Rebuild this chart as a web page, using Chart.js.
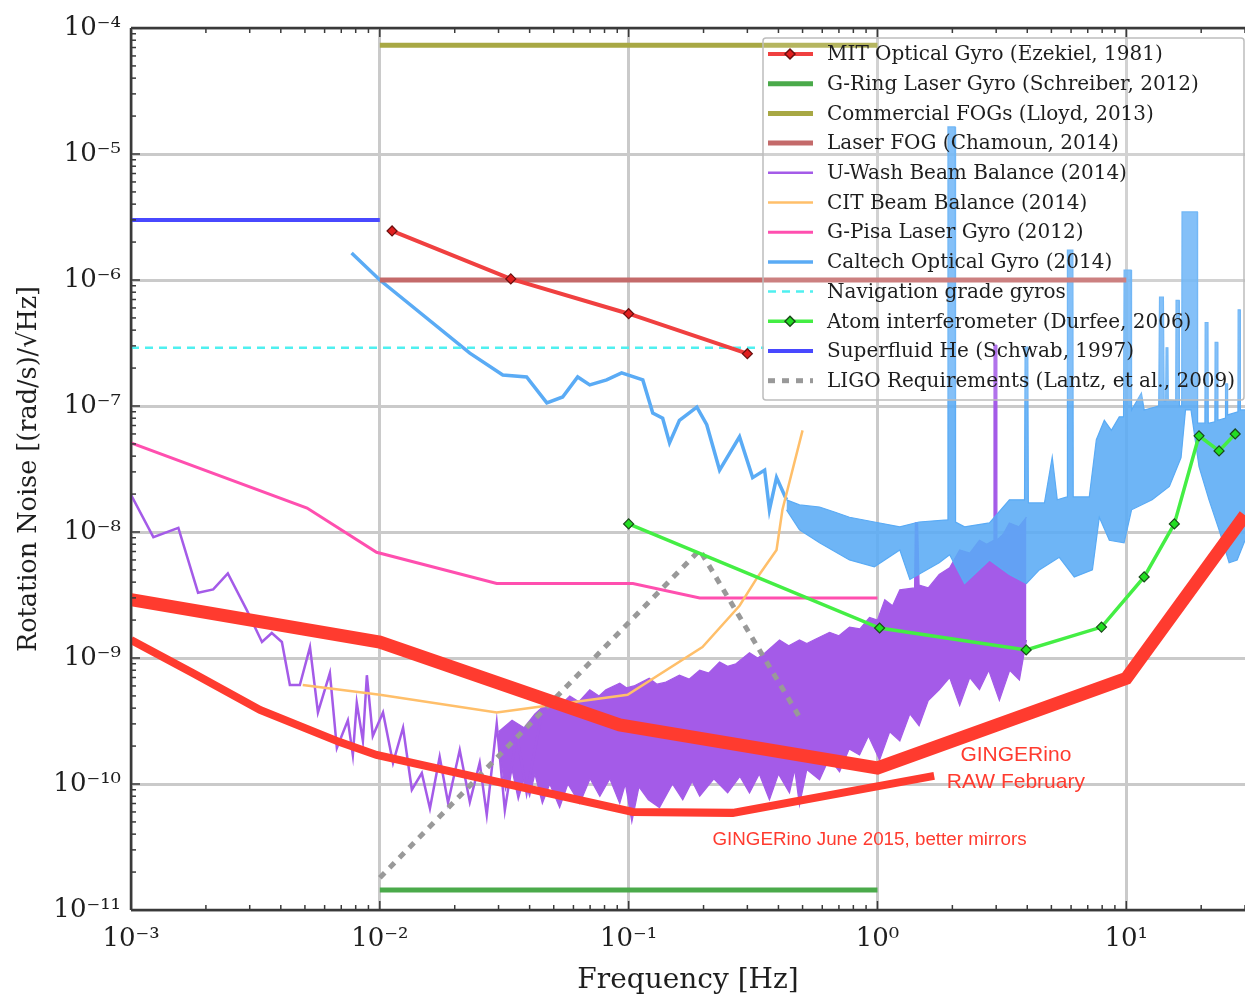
<!DOCTYPE html>
<html>
<head>
<meta charset="utf-8">
<script src="https://cdn.jsdelivr.net/npm/chart.js@4.4.1/dist/chart.umd.min.js"></script>
<style>
  html, body { margin: 0; padding: 0; background: #fff; }
  canvas { display: block; }
</style>
</head>
<body>
<canvas id="noise" width="1245" height="998"></canvas>
<script>
// ─────────────────────────────────────────────────────────
//  Rotation noise comparison — log/log line chart
// ─────────────────────────────────────────────────────────

// ── axes ─────────────────────────────────────────────────
const xDecades  = [1e-3, 1e-2, 1e-1, 1, 10];
const xTickText = ['10⁻³', '10⁻²', '10⁻¹', '10⁰', '10¹'];
const yDecades  = [1e-11, 1e-10, 1e-9, 1e-8, 1e-7, 1e-6, 1e-5, 1e-4];
const yTickText = ['10⁻¹¹', '10⁻¹⁰', '10⁻⁹', '10⁻⁸', '10⁻⁷', '10⁻⁶', '10⁻⁵', '10⁻⁴'];

// ── flat reference lines ─────────────────────────────────
const superF = [1e-3, 1e-2],  superV = [3.0e-6, 3.0e-6];
const fogF   = [1e-2, 1],     fogV   = [7.3e-5, 7.3e-5];
const laserF = [1e-2, 10],    laserV = [1.0e-6, 1.0e-6];
const gringF = [1e-2, 1],     gringV = [1.44e-11, 1.44e-11];
const navF   = [1e-3, 0.35],  navV   = [2.9e-7, 2.9e-7];

// ── measured curves ──────────────────────────────────────
const mitF  = [0.0112, 0.0336, 0.1, 0.3];
const mitV  = [2.45e-6, 1.02e-6, 5.4e-7, 2.6e-7];
const pisaF = [1e-3, 5.1e-3, 9.7e-3, 0.0295, 0.104, 0.193, 1];
const pisaV = [5.1e-8, 1.55e-8, 6.9e-9, 3.9e-9, 3.9e-9, 3.0e-9, 3.0e-9];
const citF  = [4.9e-3, 0.01, 0.0295, 0.099, 0.198, 0.279, 0.33, 0.393, 0.415, 0.5];
const citV  = [6.1e-10, 5.1e-10, 3.7e-10, 5.1e-10, 1.22e-9, 2.6e-9, 4.4e-9, 7.2e-9, 1.5e-8, 6.4e-8];
const ligoF = [0.01, 0.193, 0.495];
const ligoV = [1.8e-11, 7.2e-9, 3.2e-10];
const atomF = [0.1, 1.02, 3.96, 7.95, 11.8, 15.6, 19.6, 23.6, 27.4];
const atomV = [1.16e-8, 1.73e-9, 1.16e-9, 1.76e-9, 4.4e-9, 1.16e-8, 5.8e-8, 4.4e-8, 6.0e-8];
const rawF  = [1e-3, 0.01, 0.092, 1, 10, 30];
const rawV  = [2.9e-9, 1.34e-9, 2.94e-10, 1.34e-10, 6.9e-10, 1.36e-8];
const juneF = [1e-3, 1.77e-3, 3.3e-3, 6.9e-3, 9.7e-3, 0.104, 0.262, 1.69];
const juneV = [1.39e-9, 7.6e-10, 3.87e-10, 2.15e-10, 1.7e-10, 6.0e-11, 5.9e-11, 1.16e-10];

const caltechF = [7.7e-3, 0.01, 0.023, 0.0312, 0.0389, 0.0469, 0.0543, 0.0624, 0.0698, 0.0816, 0.0937,
                  0.114, 0.125, 0.137, 0.146, 0.160, 0.188, 0.206, 0.232, 0.279, 0.315, 0.352, 0.368, 0.393, 0.431];
const caltechV = [1.64e-6, 1.0e-6, 2.63e-7, 1.76e-7, 1.70e-7, 1.06e-7, 1.18e-7, 1.70e-7, 1.47e-7, 1.61e-7, 1.83e-7,
                  1.61e-7, 8.8e-8, 8.0e-8, 5.1e-8, 7.7e-8, 9.8e-8, 7.1e-8, 3.1e-8, 5.7e-8, 2.7e-8, 3.1e-8, 1.5e-8, 2.7e-8, 1.8e-8];

// Caltech high-frequency noise band: upper and lower edges
const caltechTop = [
  [0.431, 1.8e-8], [0.486, 1.64e-8], [0.585, 1.58e-8], [0.672, 1.44e-8], [0.772, 1.31e-8], [0.972, 1.2e-8],
  [1.23, 1.1e-8], [1.47, 1.2e-8], [1.91, 1.25e-8], [1.92, 1.64e-5], [2.05, 1.64e-5], [2.06, 1.2e-8],
  [2.24, 1.1e-8], [2.82, 1.18e-8], [3.39, 1.8e-8], [3.90, 1.8e-8], [3.92, 2.94e-7], [4.02, 2.94e-7],
  [4.04, 1.7e-8], [4.69, 1.7e-8], [5.04, 3.94e-8], [5.28, 1.8e-8], [5.78, 1.9e-8], [5.80, 1.73e-6],
  [6.10, 1.73e-6], [6.12, 1.9e-8], [7.10, 1.9e-8], [7.58, 5.4e-8], [8.16, 7.7e-8], [8.71, 6.4e-8],
  [9.37, 8.2e-8], [9.75, 8.2e-8], [9.8, 1.2e-6], [10.45, 1.2e-6], [10.5, 9.3e-8], [11.5, 1.27e-7],
  [11.8, 9.3e-8], [13.5, 1.0e-7], [13.6, 7.3e-7], [14.1, 7.3e-7], [14.2, 1.1e-7], [14.4, 1.1e-7],
  [14.45, 2.9e-7], [14.7, 2.9e-7], [14.75, 1.12e-7], [15.8, 1.1e-7], [15.85, 6.9e-7], [16.3, 6.9e-7],
  [16.35, 1.0e-7], [16.7, 1.0e-7], [16.75, 3.47e-6], [19.3, 3.47e-6], [19.35, 7.3e-8], [20.7, 7.3e-8],
  [20.75, 4.6e-7], [21.3, 4.6e-7], [21.35, 7.3e-8], [22.7, 7.5e-8], [22.75, 3.2e-7], [23.3, 3.2e-7],
  [23.35, 7.7e-8], [25.0, 8.0e-8], [25.05, 1.5e-7], [25.5, 1.5e-7], [25.55, 8.5e-8], [28.1, 9.0e-8],
  [28.15, 5.8e-7], [28.7, 5.8e-7], [28.75, 9.3e-8], [30, 9.3e-8]
];
const caltechBottom = [
  [0.431, 1.5e-8], [0.486, 1.04e-8], [0.585, 8.2e-9], [0.772, 6.0e-9], [0.972, 5.3e-9], [1.23, 7.2e-9],
  [1.35, 4.2e-9], [1.77, 5.7e-9], [1.95, 6.6e-9], [2.24, 3.9e-9], [2.82, 6.0e-9], [3.39, 4.6e-9],
  [3.97, 3.9e-9], [4.47, 5.0e-9], [5.38, 6.3e-9], [6.18, 4.4e-9], [7.31, 5.0e-9], [7.79, 1.31e-8],
  [8.55, 8.6e-9], [9.8, 8.2e-9], [10.5, 1.5e-8], [12.7, 1.8e-8], [14.9, 2.3e-8], [16.6, 3.9e-8],
  [17.3, 9.3e-8], [18.2, 9.3e-8], [19.6, 3.3e-8], [21.5, 1.8e-8], [23.6, 1.04e-8], [25.9, 5.7e-9],
  [27.9, 6.0e-9], [30, 8.6e-9]
];

// U-Wash beam balance: low-frequency trace, then dense noise band
const uwashF = [1.0e-3, 1.23e-3, 1.55e-3, 1.86e-3, 2.14e-3, 2.45e-3, 2.92e-3, 3.36e-3, 3.68e-3, 4.04e-3,
                4.35e-3, 4.77e-3, 5.24e-3, 5.64e-3, 6.3e-3, 6.72e-3, 7.44e-3, 7.79e-3, 8.08e-3, 8.55e-3,
                8.87e-3, 9.37e-3, 0.0103, 0.0113, 0.0124, 0.01345, 0.01475, 0.0159, 0.0174, 0.0188,
                0.02095, 0.023, 0.0252, 0.0269, 0.0295, 0.0318, 0.0355, 0.0389, 0.0451];
const uwashV = [1.97e-8, 9.1e-9, 1.08e-8, 3.3e-9, 3.5e-9, 4.7e-9, 2.4e-9, 1.34e-9, 1.58e-9, 1.34e-9,
                6.1e-10, 6.1e-10, 1.22e-9, 3.7e-10, 7.6e-10, 1.93e-10, 3.2e-10, 1.7e-10, 4.4e-10, 2.2e-10,
                7.3e-10, 2.4e-10, 3.7e-10, 1.47e-10, 2.8e-10, 9.0e-11, 1.22e-10, 6.4e-11, 1.64e-10, 7.1e-11,
                1.86e-10, 7.2e-11, 1.47e-10, 5.7e-11, 3.0e-10, 6.2e-11, 2.5e-10, 8.5e-11, 3.9e-10];
const uwashTop = [
  [0.03, 2.6e-10], [0.034, 3.2e-10], [0.038, 2.8e-10], [0.042, 3.6e-10], [0.0482, 4.6e-10], [0.053, 4.2e-10],
  [0.058, 5.0e-10], [0.0631, 4.5e-10], [0.0698, 5.6e-10], [0.076, 5.0e-10], [0.081, 5.6e-10], [0.0921, 6.3e-10],
  [0.098, 5.8e-10], [0.105, 6.0e-10], [0.121, 6.9e-10], [0.13, 6.2e-10], [0.14, 6.4e-10], [0.160, 7.3e-10],
  [0.175, 6.8e-10], [0.193, 8.0e-10], [0.21, 7.6e-10], [0.232, 9.3e-10], [0.25, 8.6e-10], [0.27, 9.0e-10],
  [0.306, 1.1e-9], [0.33, 1.0e-9], [0.35, 1.08e-9], [0.404, 1.39e-9], [0.44, 1.25e-9], [0.486, 1.39e-9],
  [0.52, 1.3e-9], [0.56, 1.4e-9], [0.642, 1.6e-9], [0.70, 1.5e-9], [0.772, 1.76e-9], [0.85, 1.7e-9],
  [0.929, 2.1e-9], [1.0, 2.0e-9], [1.07, 2.9e-9], [1.15, 2.6e-9], [1.23, 3.47e-9], [1.41, 3.6e-9],
  [1.42, 1.18e-8], [1.45, 1.18e-8], [1.47, 3.8e-9], [1.6, 3.6e-9], [1.77, 4.6e-9], [1.95, 5.2e-9],
  [2.14, 7.2e-9], [2.35, 6.8e-9], [2.57, 8.6e-9], [2.75, 8.0e-9], [2.93, 8.6e-9], [2.94, 3.05e-7],
  [3.0, 3.05e-7], [3.02, 8.6e-9], [3.2, 9.6e-9], [3.39, 1.18e-8], [3.7, 1.1e-8], [3.97, 1.31e-8]
];
const uwashBottom = [
  [0.03, 2.0e-10], [0.032, 9.0e-11], [0.034, 1.3e-10], [0.036, 7.5e-11], [0.038, 1.1e-10], [0.040, 8.0e-11],
  [0.042, 1.2e-10], [0.045, 7.0e-11], [0.0482, 1.0e-10], [0.0528, 6.5e-11], [0.057, 1.0e-10], [0.0636, 7.0e-11],
  [0.07, 1.1e-10], [0.0766, 8.0e-11], [0.084, 1.1e-10], [0.0921, 7.0e-11], [0.097, 1.0e-10], [0.103, 5.0e-11],
  [0.11, 9.5e-11], [0.12, 7.5e-11], [0.133, 6.5e-11], [0.15, 1.0e-10], [0.165, 7.5e-11], [0.18, 1.05e-10],
  [0.193, 8.0e-11], [0.22, 1.1e-10], [0.25, 8.5e-11], [0.28, 1.15e-10], [0.306, 8.5e-11], [0.335, 1.2e-10],
  [0.368, 7.5e-11], [0.40, 1.2e-10], [0.443, 8.5e-11], [0.465, 1.3e-10], [0.486, 6.8e-11], [0.52, 1.3e-10],
  [0.585, 1.08e-10], [0.64, 1.6e-10], [0.704, 1.25e-10], [0.77, 1.9e-10], [0.847, 1.7e-10], [0.92, 2.4e-10],
  [1.02, 1.55e-10], [1.12, 2.6e-10], [1.23, 2.2e-10], [1.35, 3.6e-10], [1.47, 2.9e-10], [1.6, 4.6e-10],
  [1.77, 5.6e-10], [1.95, 7.0e-10], [2.14, 4.2e-10], [2.35, 7.0e-10], [2.57, 5.6e-10], [2.8, 8.0e-10],
  [3.09, 4.6e-10], [3.4, 8.0e-10], [3.72, 6.7e-10], [3.97, 1.39e-9]
];

// ── text labels placed in data units ─────────────────────
const notes = [
  { text: 'GINGERino', f: 3.6, v: 1.7e-10, size: 21 },
  { text: 'RAW February', f: 3.6, v: 1.04e-10, size: 21 },
  { text: 'GINGERino June 2015, better mirrors', f: 0.929, v: 3.6e-11, size: 18.8 }
];

const legendOrder = [
  'MIT Optical Gyro (Ezekiel, 1981)', 'G-Ring Laser Gyro (Schreiber, 2012)', 'Commercial FOGs (Lloyd, 2013)',
  'Laser FOG (Chamoun, 2014)', 'U-Wash Beam Balance (2014)', 'CIT Beam Balance (2014)',
  'G-Pisa Laser Gyro (2012)', 'Caltech Optical Gyro (2014)', 'Navigation grade gyros',
  'Atom interferometer (Durfee, 2006)', 'Superfluid He (Schwab, 1997)', 'LIGO Requirements (Lantz, et al., 2009)'
];

const serif = "'DejaVu Serif', 'Liberation Serif', serif";
const sans  = "'Liberation Sans', Arial, sans-serif";
const RED = '#ff3b2f';

const pts   = (f, v) => f.map((x, i) => ({ x, y: v[i] }));
const pairs = p => p.map(([x, y]) => ({ x, y }));

function series(label, data, color, width, extra = {}) {
  return Object.assign({
    label, data, borderColor: color, backgroundColor: color, borderWidth: width,
    showLine: true, pointRadius: 0, pointHoverRadius: 0, fill: false, tension: 0
  }, extra);
}

function logTicks(decades, max) {
  const out = [];
  decades.forEach(d => {
    out.push({ value: d, major: true });
    for (let m = 2; m <= 9; m++) if (d * m <= max * 1.0001) out.push({ value: d * m, major: false });
  });
  return out;
}

function decadeLabel(v, decades, text) {
  const i = decades.findIndex(d => Math.abs(Math.log10(v / d)) < 1e-6);
  return i < 0 ? '' : text[i];
}

const diamond = (fill, edge) => ({
  pointStyle: 'rectRot', pointRadius: 5, pointBackgroundColor: fill,
  pointBorderColor: edge, pointBorderWidth: 1.2
});

// ── overlay: inward ticks, frame, notes, legend ──────────
const overlay = {
  id: 'overlay',
  afterDatasetsDraw(chart) {
    const { ctx, chartArea: a, scales: { x, y } } = chart;
    ctx.save();
    const seg = (x1, y1, x2, y2) => { ctx.beginPath(); ctx.moveTo(x1, y1); ctx.lineTo(x2, y2); ctx.stroke(); };

    ctx.strokeStyle = '#3a3a3a';
    ctx.lineWidth = 1.5;
    x.ticks.forEach(t => {
      const px = x.getPixelForValue(t.value), len = t.major ? 9 : 5;
      seg(px, a.bottom, px, a.bottom - len);
      seg(px, a.top, px, a.top + len);
    });
    y.ticks.forEach(t => {
      const py = y.getPixelForValue(t.value), len = t.major ? 9 : 5;
      seg(a.left, py, a.left + len, py);
    });
    ctx.lineWidth = 2.5;
    seg(a.left, a.top, a.right, a.top);
    seg(a.left, a.top, a.left, a.bottom);
    seg(a.left, a.bottom, a.right, a.bottom);

    // annotations
    ctx.fillStyle = RED;
    ctx.textAlign = 'center';
    ctx.textBaseline = 'middle';
    notes.forEach(n => {
      ctx.font = `${n.size}px ${sans}`;
      ctx.fillText(n.text, x.getPixelForValue(n.f), y.getPixelForValue(n.v));
    });

    // legend
    const box = { x: 763, y: 38, w: 481, h: 362 };
    ctx.fillStyle = 'rgba(255,255,255,0.15)';
    ctx.strokeStyle = '#bdbdbd';
    ctx.lineWidth = 1.5;
    ctx.beginPath();
    ctx.roundRect(box.x, box.y, box.w, box.h, 3);
    ctx.fill();
    ctx.stroke();

    ctx.textAlign = 'left';
    ctx.font = `20px ${serif}`;
    legendOrder.forEach((lab, i) => {
      const ds = chart.data.datasets.find(d => d.label === lab);
      const ry = 54 + i * 29.7;
      ctx.save();
      ctx.setLineDash(ds.borderDash || []);
      ctx.strokeStyle = ds.borderColor;
      ctx.lineWidth = Math.min(ds.borderWidth, 5);
      seg(768, ry, 813, ry);
      ctx.restore();
      if (ds.pointStyle) {
        ctx.fillStyle = ds.pointBackgroundColor;
        ctx.strokeStyle = ds.pointBorderColor;
        Chart.helpers.drawPoint(ctx, { pointStyle: 'rectRot', radius: 5, borderWidth: 1.2 }, 790, ry);
      }
      ctx.fillStyle = '#1e1e1e';
      ctx.fillText(lab, 827, ry + 1);
    });
    ctx.restore();
  }
};

// ── datasets (lower order = drawn on top) ────────────────
const datasets = [
  series('U-Wash band top', pairs(uwashTop), '#a45be8', 1.2, { fill: '+1', order: 16 }),
  series('U-Wash band bottom', pairs(uwashBottom), '#a45be8', 1.2, { order: 16 }),
  series('U-Wash Beam Balance (2014)', pts(uwashF, uwashV), '#a45be8', 2.5, { order: 15 }),
  series('Caltech band top', pairs(caltechTop), '#5aabf5', 1.2,
    { fill: '+1', backgroundColor: 'rgba(90,171,245,0.88)', order: 13 }),
  series('Caltech band bottom', pairs(caltechBottom), '#5aabf5', 1.2, { order: 13 }),
  series('Caltech Optical Gyro (2014)', pts(caltechF, caltechV), '#5aabf5', 3.5, { order: 12 }),
  series('G-Ring Laser Gyro (Schreiber, 2012)', pts(gringF, gringV), '#4aaa4a', 5, { order: 11 }),
  series('Commercial FOGs (Lloyd, 2013)', pts(fogF, fogV), '#a8a844', 5, { order: 10 }),
  series('Laser FOG (Chamoun, 2014)', pts(laserF, laserV), '#c46a6a', 5, { order: 9 }),
  series('Superfluid He (Schwab, 1997)', pts(superF, superV), '#4848ff', 4, { order: 8 }),
  series('Navigation grade gyros', pts(navF, navV), '#4ff0f0', 2.5, { borderDash: [8, 6], order: 7 }),
  series('G-Pisa Laser Gyro (2012)', pts(pisaF, pisaV), '#ff4faf', 3, { order: 6 }),
  series('CIT Beam Balance (2014)', pts(citF, citV), '#ffbf6a', 2.5, { order: 5 }),
  series('LIGO Requirements (Lantz, et al., 2009)', pts(ligoF, ligoV), '#999999', 5, { borderDash: [7, 7], order: 4 }),
  series('MIT Optical Gyro (Ezekiel, 1981)', pts(mitF, mitV), '#f04040', 4,
    Object.assign({ order: 3 }, diamond('#e01e1e', '#6a1010'))),
  series('Atom interferometer (Durfee, 2006)', pts(atomF, atomV), '#44ee44', 3.5,
    Object.assign({ order: 2 }, diamond('#22dd22', '#1a4a1a'))),
  series('GINGERino June 2015', pts(juneF, juneV), RED, 8, { order: 1 }),
  series('GINGERino RAW February', pts(rawF, rawV), RED, 13, { order: 0 })
];

const gridColor = c => (c.tick && c.tick.major) ? '#cacaca' : 'rgba(0,0,0,0)';

new Chart(document.getElementById('noise'), {
  type: 'scatter',
  data: { datasets },
  options: {
    responsive: false,
    animation: false,
    devicePixelRatio: 1,
    events: [],
    layout: { autoPadding: false, padding: { top: 28, right: 0, left: 0, bottom: 0 } },
    plugins: { legend: { display: false }, tooltip: { enabled: false } },
    scales: {
      x: {
        type: 'logarithmic', min: 1e-3, max: 30,
        afterBuildTicks: s => { s.ticks = logTicks(xDecades, 30); },
        afterFit: s => { s.height = 88; s.paddingRight = 0; },
        grid: { color: gridColor, lineWidth: 3, drawTicks: false },
        border: { display: false },
        ticks: {
          autoSkip: false, maxRotation: 0, padding: 14, color: '#1e1e1e',
          font: { family: serif, size: 26 },
          callback: v => decadeLabel(v, xDecades, xTickText)
        },
        title: {
          display: true, text: 'Frequency [Hz]', color: '#1e1e1e',
          font: { family: serif, size: 28 }, padding: { top: 0, bottom: 0 }
        }
      },
      y: {
        type: 'logarithmic', min: 1e-11, max: 1e-4,
        afterBuildTicks: s => { s.ticks = logTicks(yDecades, 1e-4); },
        afterFit: s => { s.width = 131; },
        grid: { color: gridColor, lineWidth: 3, drawTicks: false },
        border: { display: false },
        ticks: {
          autoSkip: false, padding: 10, color: '#1e1e1e',
          font: { family: serif, size: 26 },
          callback: v => decadeLabel(v, yDecades, yTickText)
        },
        title: {
          display: true, text: 'Rotation Noise [(rad/s)/√Hz]', color: '#1e1e1e',
          font: { family: serif, size: 25.5 }, padding: { top: 14, bottom: 0 }
        }
      }
    }
  },
  plugins: [overlay]
});
</script>
</body>
</html>
